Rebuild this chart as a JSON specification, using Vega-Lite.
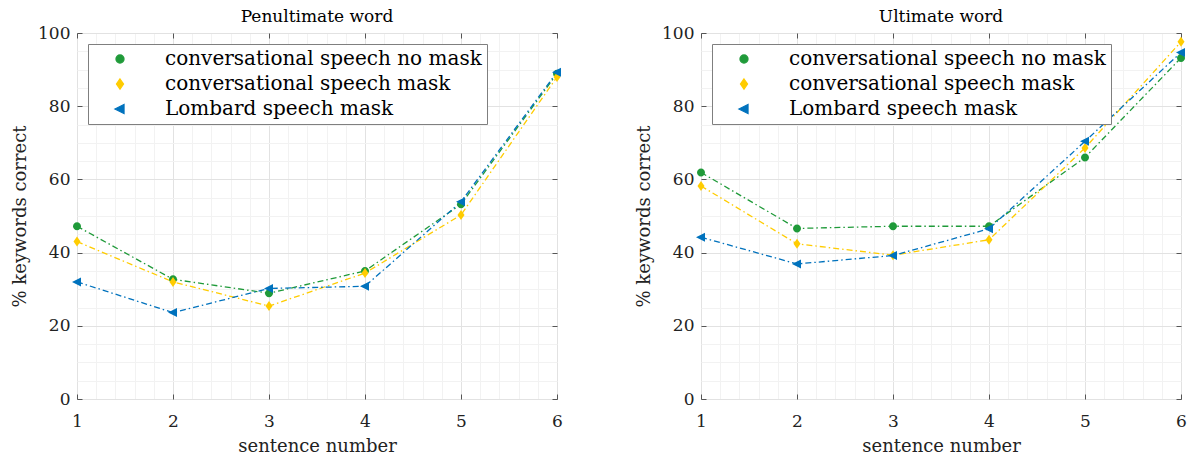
{
  "$schema": "https://vega.github.io/schema/vega-lite/v6.json",
  "background": "white",
  "padding": {"left": 11, "top": 7, "right": 8, "bottom": 4},
  "spacing": 72,
  "config": {
    "font": "DejaVu Serif",
    "view": {"stroke": "#7f7f7f", "strokeWidth": 1},
    "title": {"fontSize": 17, "fontWeight": "normal", "color": "black", "offset": -2},
    "axis": {
      "labelFontSize": 17,
      "labelColor": "#222",
      "titleFontSize": 18,
      "titleFontWeight": "normal",
      "titleColor": "#222",
      "tickColor": "#555",
      "labelOverlap": false,
      "labelFlush": false
    },
    "legend": {
      "orient": "top-left", "offset": 11, "padding": 5, "strokeColor": "#7f7f7f", "fillColor": "white",
      "symbolSize": 100, "symbolOffset": 17, "symbolStrokeWidth": 1.3, "labelFontSize": 20, "labelColor": "black", "labelOffset": 35, "rowPadding": 5, "symbolOpacity": 1, "labelLimit": 0
    }
  },
  "resolve": {"legend": {"color": "independent", "shape": "independent"}},
  "datasets": {
    "pen": [
      {"sentence": 1, "pct": 47.2, "series": "conversational speech no mask"},
      {"sentence": 2, "pct": 32.7, "series": "conversational speech no mask"},
      {"sentence": 3, "pct": 28.9, "series": "conversational speech no mask"},
      {"sentence": 4, "pct": 35.0, "series": "conversational speech no mask"},
      {"sentence": 5, "pct": 53.2, "series": "conversational speech no mask"},
      {"sentence": 6, "pct": 88.9, "series": "conversational speech no mask"},
      {"sentence": 1, "pct": 43.0, "series": "conversational speech mask"},
      {"sentence": 2, "pct": 32.0, "series": "conversational speech mask"},
      {"sentence": 3, "pct": 25.4, "series": "conversational speech mask"},
      {"sentence": 4, "pct": 34.4, "series": "conversational speech mask"},
      {"sentence": 5, "pct": 50.3, "series": "conversational speech mask"},
      {"sentence": 6, "pct": 88.0, "series": "conversational speech mask"},
      {"sentence": 1, "pct": 32.0, "series": "Lombard speech mask"},
      {"sentence": 2, "pct": 23.6, "series": "Lombard speech mask"},
      {"sentence": 3, "pct": 30.2, "series": "Lombard speech mask"},
      {"sentence": 4, "pct": 30.8, "series": "Lombard speech mask"},
      {"sentence": 5, "pct": 53.9, "series": "Lombard speech mask"},
      {"sentence": 6, "pct": 89.3, "series": "Lombard speech mask"}
    ],
    "ult": [
      {"sentence": 1, "pct": 61.9, "series": "conversational speech no mask"},
      {"sentence": 2, "pct": 46.6, "series": "conversational speech no mask"},
      {"sentence": 3, "pct": 47.2, "series": "conversational speech no mask"},
      {"sentence": 4, "pct": 47.2, "series": "conversational speech no mask"},
      {"sentence": 5, "pct": 66.0, "series": "conversational speech no mask"},
      {"sentence": 6, "pct": 93.2, "series": "conversational speech no mask"},
      {"sentence": 1, "pct": 58.2, "series": "conversational speech mask"},
      {"sentence": 2, "pct": 42.4, "series": "conversational speech mask"},
      {"sentence": 3, "pct": 39.3, "series": "conversational speech mask"},
      {"sentence": 4, "pct": 43.5, "series": "conversational speech mask"},
      {"sentence": 5, "pct": 68.6, "series": "conversational speech mask"},
      {"sentence": 6, "pct": 97.6, "series": "conversational speech mask"},
      {"sentence": 1, "pct": 44.2, "series": "Lombard speech mask"},
      {"sentence": 2, "pct": 36.9, "series": "Lombard speech mask"},
      {"sentence": 3, "pct": 39.2, "series": "Lombard speech mask"},
      {"sentence": 4, "pct": 46.5, "series": "Lombard speech mask"},
      {"sentence": 5, "pct": 70.4, "series": "Lombard speech mask"},
      {"sentence": 6, "pct": 94.7, "series": "Lombard speech mask"}
    ]
  },
  "hconcat": [
    {
      "width": 480, "height": 366,
      "title": "Penultimate word",
      "data": {"name": "pen"},
      "layer": [
        {
          "mark": {"type": "line", "strokeDash": [6, 3, 1.5, 3], "strokeWidth": 1.3},
          "encoding": {
            "x": {"field": "sentence", "type": "quantitative", "scale": {"domain": [1, 6], "nice": false, "zero": false},
              "axis": {"orient": "bottom", "title": "sentence number", "values": [1,1.2,1.4,1.6,1.8,2,2.2,2.4,2.6,2.8,3,3.2,3.4,3.6,3.8,4,4.2,4.4,4.6,4.8,5,5.2,5.4,5.6,5.8,6],
                "labelExpr": "datum.value % 1 === 0 ? '' + datum.value : ''", "grid": true, "domain": false, "tickSize": -5,
                "tickOpacity": {"condition": {"test": "datum.value % 1 === 0", "value": 1}, "value": 0},
                "gridColor": {"condition": {"test": "datum.value % 1 === 0", "value": "#e2e2e2"}, "value": "#f2f2f2"},
                "labelPadding": 19, "titlePadding": 8}},
            "y": {"field": "pct", "type": "quantitative", "scale": {"domain": [0, 100], "nice": false},
              "axis": {"orient": "left", "title": "% keywords correct", "values": [0,5,10,15,20,25,30,35,40,45,50,55,60,65,70,75,80,85,90,95,100],
                "labelExpr": "datum.value % 20 === 0 ? '' + datum.value : ''", "grid": true, "domain": false, "tickSize": -5,
                "tickOpacity": {"condition": {"test": "datum.value % 20 === 0", "value": 1}, "value": 0},
                "gridColor": {"condition": {"test": "datum.value % 20 === 0", "value": "#e2e2e2"}, "value": "#f2f2f2"},
                "labelPadding": 12, "titlePadding": 8}},
            "color": {"field": "series", "type": "nominal", "title": null,
              "scale": {"domain": ["conversational speech no mask", "conversational speech mask", "Lombard speech mask"], "range": ["#1f9a39", "#ffcc00", "#0072bd"]}}
          }
        },
        {
          "mark": {"type": "point", "filled": true, "size": 100, "opacity": 1},
          "encoding": {
            "x": {"field": "sentence", "type": "quantitative", "axis": {"orient": "top", "title": null, "labels": false, "grid": false, "domain": false, "tickSize": -5, "values": [1,2,3,4,5,6]}},
            "y": {"field": "pct", "type": "quantitative", "axis": {"orient": "right", "title": null, "labels": false, "grid": false, "domain": false, "tickSize": -5, "values": [0,20,40,60,80,100]}},
            "color": {"field": "series", "type": "nominal", "title": null},
            "shape": {"field": "series", "type": "nominal", "title": null,
              "scale": {"domain": ["conversational speech no mask", "conversational speech mask", "Lombard speech mask"],
                "range": ["M0.8,0A0.8,0.8,0,1,1,-0.8,0A0.8,0.8,0,1,1,0.8,0Z", "M0,-1L0.7,0L0,1L-0.7,0Z", "M-1,0L0.8,-0.9L0.8,0.9Z"]}}
          }
        }
      ]
    },
    {
      "width": 480, "height": 366,
      "title": "Ultimate word",
      "data": {"name": "ult"},
      "layer": [
        {
          "mark": {"type": "line", "strokeDash": [6, 3, 1.5, 3], "strokeWidth": 1.3},
          "encoding": {
            "x": {"field": "sentence", "type": "quantitative", "scale": {"domain": [1, 6], "nice": false, "zero": false},
              "axis": {"orient": "bottom", "title": "sentence number", "values": [1,1.2,1.4,1.6,1.8,2,2.2,2.4,2.6,2.8,3,3.2,3.4,3.6,3.8,4,4.2,4.4,4.6,4.8,5,5.2,5.4,5.6,5.8,6],
                "labelExpr": "datum.value % 1 === 0 ? '' + datum.value : ''", "grid": true, "domain": false, "tickSize": -5,
                "tickOpacity": {"condition": {"test": "datum.value % 1 === 0", "value": 1}, "value": 0},
                "gridColor": {"condition": {"test": "datum.value % 1 === 0", "value": "#e2e2e2"}, "value": "#f2f2f2"},
                "labelPadding": 19, "titlePadding": 8}},
            "y": {"field": "pct", "type": "quantitative", "scale": {"domain": [0, 100], "nice": false},
              "axis": {"orient": "left", "title": "% keywords correct", "values": [0,5,10,15,20,25,30,35,40,45,50,55,60,65,70,75,80,85,90,95,100],
                "labelExpr": "datum.value % 20 === 0 ? '' + datum.value : ''", "grid": true, "domain": false, "tickSize": -5,
                "tickOpacity": {"condition": {"test": "datum.value % 20 === 0", "value": 1}, "value": 0},
                "gridColor": {"condition": {"test": "datum.value % 20 === 0", "value": "#e2e2e2"}, "value": "#f2f2f2"},
                "labelPadding": 12, "titlePadding": 8}},
            "color": {"field": "series", "type": "nominal", "title": null,
              "scale": {"domain": ["conversational speech no mask", "conversational speech mask", "Lombard speech mask"], "range": ["#1f9a39", "#ffcc00", "#0072bd"]}}
          }
        },
        {
          "mark": {"type": "point", "filled": true, "size": 100, "opacity": 1},
          "encoding": {
            "x": {"field": "sentence", "type": "quantitative", "axis": {"orient": "top", "title": null, "labels": false, "grid": false, "domain": false, "tickSize": -5, "values": [1,2,3,4,5,6]}},
            "y": {"field": "pct", "type": "quantitative", "axis": {"orient": "right", "title": null, "labels": false, "grid": false, "domain": false, "tickSize": -5, "values": [0,20,40,60,80,100]}},
            "color": {"field": "series", "type": "nominal", "title": null},
            "shape": {"field": "series", "type": "nominal", "title": null,
              "scale": {"domain": ["conversational speech no mask", "conversational speech mask", "Lombard speech mask"],
                "range": ["M0.8,0A0.8,0.8,0,1,1,-0.8,0A0.8,0.8,0,1,1,0.8,0Z", "M0,-1L0.7,0L0,1L-0.7,0Z", "M-1,0L0.8,-0.9L0.8,0.9Z"]}}
          }
        }
      ]
    }
  ]
}
